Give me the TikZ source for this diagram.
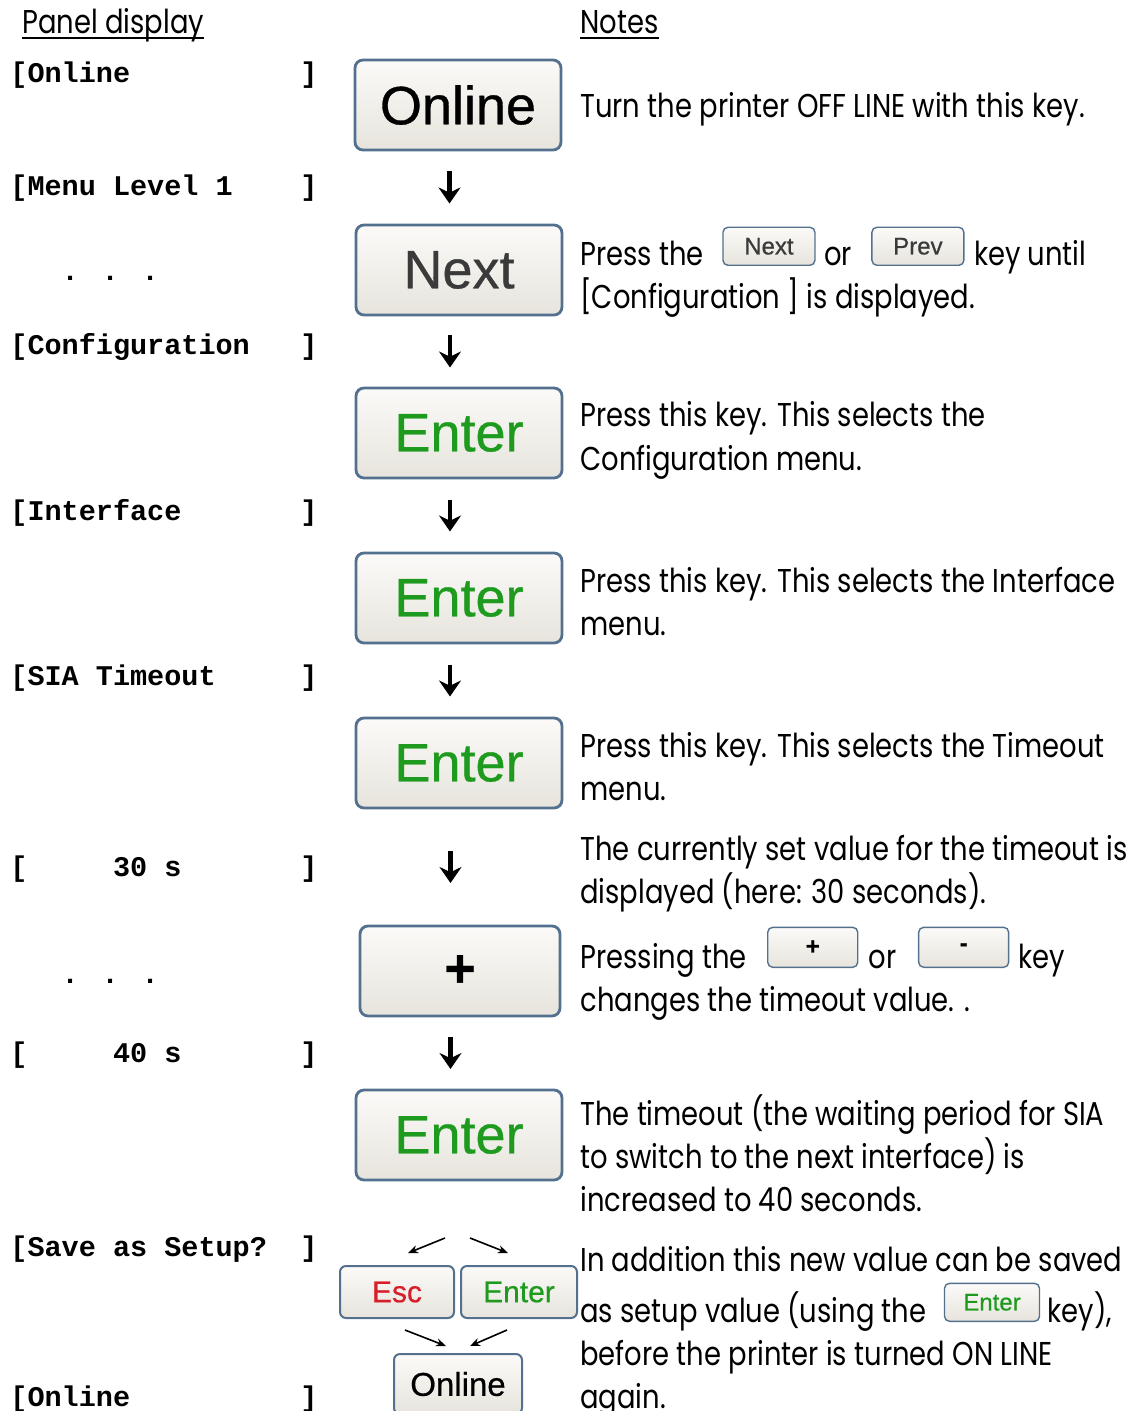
\documentclass[tikz,border=0pt]{standalone}
\usepackage{fontspec}
\setmainfont[FakeStretch=0.83]{Poppins}
\newfontfamily\keyfont[FakeBold=0.6]{Liberation Sans}
\newfontfamily\panelfont{Liberation Mono}
\usetikzlibrary{arrows.meta,positioning,calc}

\definecolor{keyedge}{HTML}{54708F}
\definecolor{keytop}{HTML}{FBFAF8}
\definecolor{keybot}{HTML}{E6E4DC}
\definecolor{entergreen}{HTML}{1E9B1E}
\definecolor{escred}{HTML}{D81E2A}
\definecolor{nextgray}{HTML}{3A3A3A}

\tikzset{
  keycap/.style={draw=keyedge, line width=1.4pt, rounded corners=4pt,
    top color=keytop, bottom color=keybot, inner sep=0pt},
  bigkey/.style={keycap, minimum width=103pt, minimum height=45pt,
    font=\keyfont\fontsize{27}{27}\selectfont},
  minikey/.style={keycap, line width=0.7pt, rounded corners=2.5pt,
    minimum width=46pt, minimum height=19pt,
    font=\keyfont\fontsize{12}{12}\selectfont},
  lowkey/.style={keycap, line width=1pt, rounded corners=3pt,
    minimum height=26pt, font=\keyfont\fontsize{15}{15}\selectfont},
  panelline/.style={anchor=base west, inner sep=0pt,
    font=\panelfont\bfseries\fontsize{14.25}{14.25}\selectfont},
  notetext/.style={anchor=base west, inner sep=0pt,
    font=\fontsize{16.5}{16.5}\selectfont},
  stepdown/.style={-{Stealth[length=8pt,width=11pt]}, line width=2.3pt},
  fork/.style={-{Stealth[length=5pt,width=4pt]}, line width=0.8pt},
}

\begin{document}
\begin{tikzpicture}[x=0.5pt,y=-0.5pt]
    \useasboundingbox (0,0) rectangle (1138,1411);

    % Kopfzeilen
    \node[notetext] (hdrPanel) at (22,34) {Panel display};
    \node[notetext] (hdrNotes) at (580,34) {Notes};
    \draw[line width=1pt] ([yshift=-2pt]hdrPanel.base west) -- ([yshift=-2pt]hdrPanel.base east);
    \draw[line width=1pt] ([yshift=-2pt]hdrNotes.base west) -- ([yshift=-2pt]hdrNotes.base east);

    % Anzeige am Bedienfeld
    \foreach \y/\txt [count=\i] in {83/{[Online}, 196/{[Menu Level 1}, 355/{[Configuration},
        520/{[Interface}, 685/{[SIA Timeout}, 876/{[\ \ \ \ \ 30 s}, 1062/{[\ \ \ \ \ 40 s},
        1256/{[Save as Setup?}, 1406/{[Online}} {
      \node[panelline] (pl\i) at (10,\y) {\txt};
      \node[panelline] (pr\i) at (300,\y) {]};
    }
    \node[panelline] (dots1) at (10,281) {\ \ \ . . .};
    \node[panelline] (dots2) at (10,983) {\ \ \ . . .};

    % Tasten
    \node[bigkey] (k1) at (458,105) {Online};
    \node[bigkey, text=nextgray] (k2) at (459,270) {Next};
    \node[bigkey, text=entergreen] (k3) at (459,433) {Enter};
    \node[bigkey, text=entergreen] (k4) at (459,598) {Enter};
    \node[bigkey, text=entergreen] (k5) at (459,763) {Enter};
    \node[bigkey, minimum width=100pt] (k6) at (460,971) {\textbf{+}};
    \node[bigkey, text=entergreen] (k7) at (459,1135) {Enter};
    \node[lowkey, minimum width=57pt, text=escred] (kEsc) at (397,1292) {Esc};
    \node[lowkey, minimum width=58pt, text=entergreen] (kEnt) at (519,1292) {Enter};
    \node[lowkey, minimum width=64pt, minimum height=30pt, font=\keyfont\fontsize{16.5}{16.5}\selectfont] (kOn) at (458,1384) {Online};

    % Pfeile zwischen den Tasten
    \foreach \a/\b in {k1/k2, k2/k3, k3/k4, k4/k5, k5/k6, k6/k7} {
      \draw[stepdown] ($(\a.south)!0.5!(\b.north)+(-9,-16)$) -- ++(0,32);
    }

    % Verzweigung Esc / Enter
    \coordinate (forkL) at (445,1238);
    \coordinate (forkR) at (470,1238);
    \coordinate (joinL) at (405,1330);
    \coordinate (joinR) at (507,1330);
    \draw[fork] (forkL) -- ++(-37,15);
    \draw[fork] (forkR) -- ++(38,15);
    \draw[fork] (joinL) -- ++(41,16);
    \draw[fork] (joinR) -- ++(-37,16);

    % Hinweise
    \node[notetext] (n1) at (580,118) {Turn the printer OFF LINE with this key.};

    \node[notetext] (n2a) at (580,266) {Press the};
    \node[minikey, text=nextgray, right=9pt of n2a.base east, anchor=south west] (mNext) {Next};
    \node[notetext, right=4pt of mNext.south east, anchor=base west] (n2b) {or};
    \node[minikey, text=nextgray, right=9.5pt of n2b.base east, anchor=south west] (mPrev) {Prev};
    \node[notetext, right=4.5pt of mPrev.south east, anchor=base west] (n2c) {key until};
    \node[notetext] (n2d) at (580,309) {[Configuration ] is displayed.};

    \node[notetext] (n3a) at (580,427) {Press this key. This selects the};
    \node[notetext] (n3b) at (580,470) {Configuration menu.};

    \node[notetext] (n4a) at (580,592) {Press this key. This selects the Interface};
    \node[notetext] (n4b) at (580,635) {menu.};

    \node[notetext] (n5a) at (580,757) {Press this key. This selects the Timeout};
    \node[notetext] (n5b) at (580,800) {menu.};

    \node[notetext] (n6a) at (580,860) {The currently set value for the timeout is};
    \node[notetext] (n6b) at (580,903) {displayed (here: 30 seconds).};

    \node[notetext] (n7a) at (580,968) {Pressing the};
    \node[minikey, minimum width=45pt, minimum height=20pt, right=10pt of n7a.base east, anchor=south west] (mPlus) {\textbf{+}};
    \node[notetext, right=5pt of mPlus.south east, anchor=base west] (n7b) {or};
    \node[minikey, minimum width=45pt, minimum height=20pt, right=10.5pt of n7b.base east, anchor=south west] (mMinus) {\textbf{-}};
    \node[notetext, right=4.5pt of mMinus.south east, anchor=base west] (n7c) {key};
    \node[notetext] (n7d) at (580,1011) {changes the timeout value. .};

    \node[notetext] (n8a) at (580,1125) {The timeout (the waiting period for SIA};
    \node[notetext] (n8b) at (580,1168) {to switch to the next interface) is};
    \node[notetext] (n8c) at (580,1211) {increased to 40 seconds.};

    \node[notetext] (n9a) at (580,1271) {In addition this new value can be saved};
    \node[notetext] (n9b) at (580,1322) {as setup value (using the};
    \node[minikey, minimum width=47.5pt, text=entergreen, right=8.5pt of n9b.base east, anchor=south west] (mEnter) {Enter};
    \node[notetext, right=3.5pt of mEnter.south east, anchor=base west] (n9c) {key),};
    \node[notetext] (n9d) at (580,1365) {before the printer is turned ON LINE};
    \node[notetext] (n9e) at (580,1408) {again.};

\end{tikzpicture}
\end{document}
